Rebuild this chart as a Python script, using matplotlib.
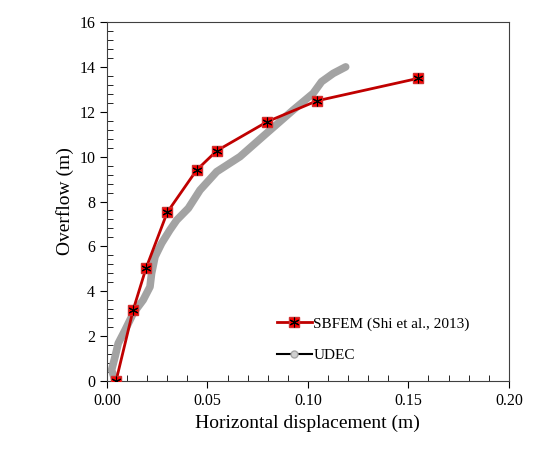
import numpy as np
import matplotlib.pyplot as plt
from matplotlib.lines import Line2D
from matplotlib.ticker import MultipleLocator

plt.rcParams['font.family'] = ['Liberation Serif', 'DejaVu Serif']

# SBFEM (Shi et al., 2013)
sbfem_x = [0.0045, 0.013, 0.0194, 0.030, 0.0446, 0.0546, 0.0798, 0.1046, 0.1549]
sbfem_y = [0.0, 3.16, 5.02, 7.52, 9.40, 10.26, 11.56, 12.49, 13.49]

# UDEC
udec_x = [0.004, 0.0023, 0.004, 0.0056, 0.009, 0.0131, 0.018, 0.0214, 0.0222, 0.0239,
          0.0272, 0.0313, 0.0347, 0.0405, 0.0463, 0.0546, 0.0662, 0.0794, 0.0927,
          0.1026, 0.1068, 0.1126, 0.1188]
udec_y = [0.04, 0.49, 1.08, 1.68, 2.27, 3.02, 3.61, 4.20, 4.80, 5.54,
          6.14, 6.73, 7.17, 7.70, 8.51, 9.33, 10.0, 11.04, 12.08,
          12.82, 13.34, 13.71, 14.0]

fig = plt.figure(figsize=(5.39, 4.55), dpi=100)
ax = fig.add_axes([0.1985, 0.1626, 0.7455, 0.789])

ax.plot(udec_x, udec_y, color='#a3a3a3', lw=5.5, solid_capstyle='round', solid_joinstyle='round', zorder=2)
ax.plot(sbfem_x, sbfem_y, color='#c00000', lw=2, marker='s', ms=7,
        mfc='#ff0000', mec='#d03030', zorder=3)
ax.plot(sbfem_x, sbfem_y, ls='none', marker=(6, 2, 0), ms=7, mec='black', mew=0.8, zorder=4)

ax.set_xlim(0, 0.20)
ax.set_ylim(0, 16)
ax.xaxis.set_major_locator(MultipleLocator(0.05))
ax.xaxis.set_minor_locator(MultipleLocator(0.01))
ax.yaxis.set_major_locator(MultipleLocator(2))
ax.yaxis.set_minor_locator(MultipleLocator(0.4))
ax.xaxis.set_major_formatter(plt.FormatStrFormatter('%.2f'))
ax.tick_params(which='major', direction='out', length=5, labelsize=11.5)
ax.tick_params(which='minor', direction='in', length=4)
for s in ax.spines.values():
    s.set_color('#404040')

ax.set_xlabel('Horizontal displacement (m)', fontsize=14)
ax.set_ylabel('Overflow (m)', fontsize=14)

h1 = Line2D([], [], color='#c00000', lw=2, marker='s', ms=7, mfc='#ff0000', mec='#d03030')
h1b = Line2D([], [], ls='none', marker=(6, 2, 0), ms=7, mec='black', mew=0.8)
h2 = Line2D([], [], color='black', lw=1.5, marker='o', ms=5, mfc='#d0d0d0', mec='#a6a6a6')
ax.legend([(h1, h1b), h2], ['SBFEM (Shi et al., 2013)', 'UDEC'], loc='upper left',
          bbox_to_anchor=(0.488, 0.334), bbox_transform=fig.transFigure,
          frameon=False, fontsize=11, handlelength=2.3,
          labelspacing=1.15, handletextpad=0.1)

fig.savefig('out.png', dpi=100)
